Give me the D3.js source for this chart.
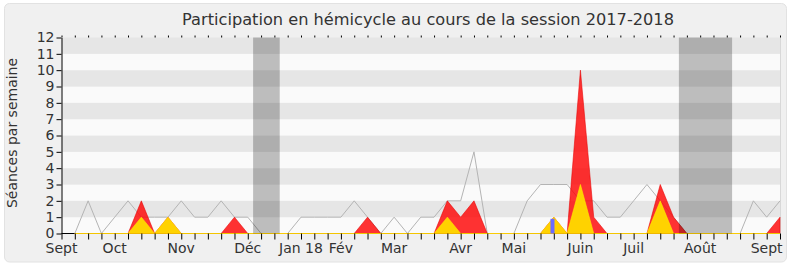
<!DOCTYPE html>
<html>
<head>
<meta charset="utf-8">
<script src="https://cdn.jsdelivr.net/npm/d3@7"></script>
<style>
  body { margin: 0; background: #fff; }
  svg { display: block; font-family: "DejaVu Sans", Verdana, sans-serif; }
</style>
</head>
<body>
<svg id="chart" width="790" height="267"></svg>
<script>
// semaines 1..54 de la session
var weeks = d3.range(1, 55);

// moyenne des deputes (ligne grise)
var average = [0, 2, 0, 1, 2, 1, 1, 1, 2, 1, 1, 2, 1, 1,
               0, 0, 0, 1, 1, 1, 1, 2, 1, 0, 1, 0, 1, 1, 2, 2, 5, 0, 0, 0,
               2, 3, 3, 3, 2, 2, 1, 1, 2, 3, 2, 1, 0, 0, 0, 0, 0, 2, 1, 2];
// presences (rouge)
var presences = [0, 0, 0, 0, 0, 2, 0, 1, 0, 0, 0, 0, 1, 0,
                 0, 0, 0, 0, 0, 0, 0, 0, 1, 0, 0, 0, 0, 0, 2, 1, 2, 0, 0, 0,
                 0, 0, 1, 0, 10, 1, 0, 0, 0, 0, 3, 1, 0, 0, 0, 0, 0, 0, 0, 1];
// interventions (jaune)
var interventions = [0, 0, 0, 0, 0, 1, 0, 1, 0, 0, 0, 0, 0, 0,
                     0, 0, 0, 0, 0, 0, 0, 0, 0, 0, 0, 0, 0, 0, 1, 0, 0, 0, 0, 0,
                     0, 0, 1, 0, 3, 0, 0, 0, 0, 0, 2, 0, 0, 0, 0, 0, 0, 0, 0, 0];
// questions (bleu)
var questions = [{week: 36.9, value: 0.9}];

// vacances
var vacations = [[14.4, 16.4], [46.4, 50.4]];

var monthLabels = ["Sept", "Oct", "Nov", "Déc", "Jan 18", "Fév", "Mar", "Avr", "Mai", "Juin", "Juil", "Août", "Sept"];
var monthWeeks = [0, 4, 9, 14, 18, 21, 25, 30, 34, 39, 43, 48, 53];
var yTicks = d3.range(0, 13);

var svg = d3.select("#chart");

var x = d3.scaleLinear().domain([0, 54]).range([61.5, 780]);
var y = d3.scaleLinear().domain([0, 12]).range([233.5, 37.5]);

// fond
svg.append("rect")
    .attr("x", 4.5).attr("y", 3.5)
    .attr("width", 782).attr("height", 258.5)
    .attr("rx", 5)
    .attr("fill", "#f0f0f0")
    .attr("stroke", "#e2e2e2");

svg.append("text")
    .attr("x", 428)
    .attr("y", 25)
    .attr("text-anchor", "middle")
    .attr("font-size", 16.2)
    .attr("fill", "#333")
    .text("Participation en hémicycle au cours de la session 2017-2018");

// bandes horizontales
svg.append("g")
    .selectAll("rect")
    .data(d3.range(0, 12))
    .enter()
    .append("rect")
    .attr("x", x(0))
    .attr("width", x(54) - x(0))
    .attr("y", function (d) { return y(d + 1); })
    .attr("height", function (d) { return y(d) - y(d + 1); })
    .attr("fill", function (d) { return d % 2 == 1 ? "#e6e6e6" : "#fafafa"; });

svg.append("line")
    .attr("x1", 780.5).attr("x2", 780.5)
    .attr("y1", y(12)).attr("y2", y(0))
    .attr("stroke", "#d8d8d8");

var line = d3.line()
    .x(function (d, i) { return x(weeks[i]); })
    .y(function (d) { return y(d); });

var area = d3.area()
    .x(function (d, i) { return x(weeks[i]); })
    .y0(y(0))
    .y1(function (d) { return y(d); });

// axe x (domaine) sous les aires
svg.append("line")
    .attr("x1", x(0)).attr("x2", x(54))
    .attr("y1", y(0)).attr("y2", y(0))
    .attr("stroke", "#000");

svg.append("path")
    .datum(average)
    .attr("d", line)
    .attr("fill", "none")
    .attr("stroke", "#b4b4b4")
    .attr("stroke-width", 1);

svg.append("path")
    .datum(presences)
    .attr("d", area)
    .attr("fill", "rgba(255,0,0,0.8)")
    .attr("stroke", "rgba(230,0,0,0.55)")
    .attr("stroke-width", 1);

svg.append("path")
    .datum(interventions)
    .attr("d", area)
    .attr("fill", "#ffd200")
    .attr("stroke", "rgba(255,235,0,0.6)")
    .attr("stroke-width", 1);

svg.append("g")
    .selectAll("rect")
    .data(questions)
    .enter()
    .append("rect")
    .attr("x", function (d) { return x(d.week) - 2; })
    .attr("width", 4)
    .attr("y", function (d) { return y(d.value); })
    .attr("height", function (d) { return y(0) - y(d.value); })
    .attr("fill", "#6b6bff");

// vacances par-dessus
svg.append("g")
    .selectAll("rect")
    .data(vacations)
    .enter()
    .append("rect")
    .attr("x", function (d) { return x(d[0]); })
    .attr("width", function (d) { return x(d[1]) - x(d[0]); })
    .attr("y", y(12))
    .attr("height", y(0) - y(12))
    .attr("fill", "rgba(0,0,0,0.245)");

// axe x
var xAxis = svg.append("g")
    .attr("transform", "translate(0," + y(0) + ")")
    .call(d3.axisBottom(x).tickValues(d3.range(0, 55)).tickSize(6).tickFormat("").tickSizeOuter(0));
xAxis.select(".domain").remove();

var xTop = svg.append("g")
    .attr("transform", "translate(0," + y(12) + ")")
    .call(d3.axisTop(x).tickValues(d3.range(0, 55)).tickSize(2).tickFormat("").tickSizeOuter(0));
xTop.select(".domain").remove();

svg.append("g")
    .selectAll("text")
    .data(monthLabels)
    .enter()
    .append("text")
    .attr("x", function (d, i) { return x(monthWeeks[i]); })
    .attr("y", 253)
    .attr("text-anchor", "middle")
    .attr("font-size", 14)
    .attr("fill", "#333")
    .text(function (d) { return d; });

// axe y
var yAxis = svg.append("g")
    .attr("transform", "translate(" + x(0) + ",0)")
    .call(d3.axisLeft(y).tickValues(yTicks).tickSize(5).tickPadding(2).tickSizeOuter(0));
yAxis.selectAll("text")
    .attr("font-size", 14)
    .attr("font-family", "DejaVu Sans, sans-serif")
    .attr("fill", "#333");

svg.append("text")
    .attr("transform", "translate(17,133) rotate(-90)")
    .attr("text-anchor", "middle")
    .attr("font-size", 14)
    .attr("fill", "#333")
    .text("Séances par semaine");
</script>
</body>
</html>
